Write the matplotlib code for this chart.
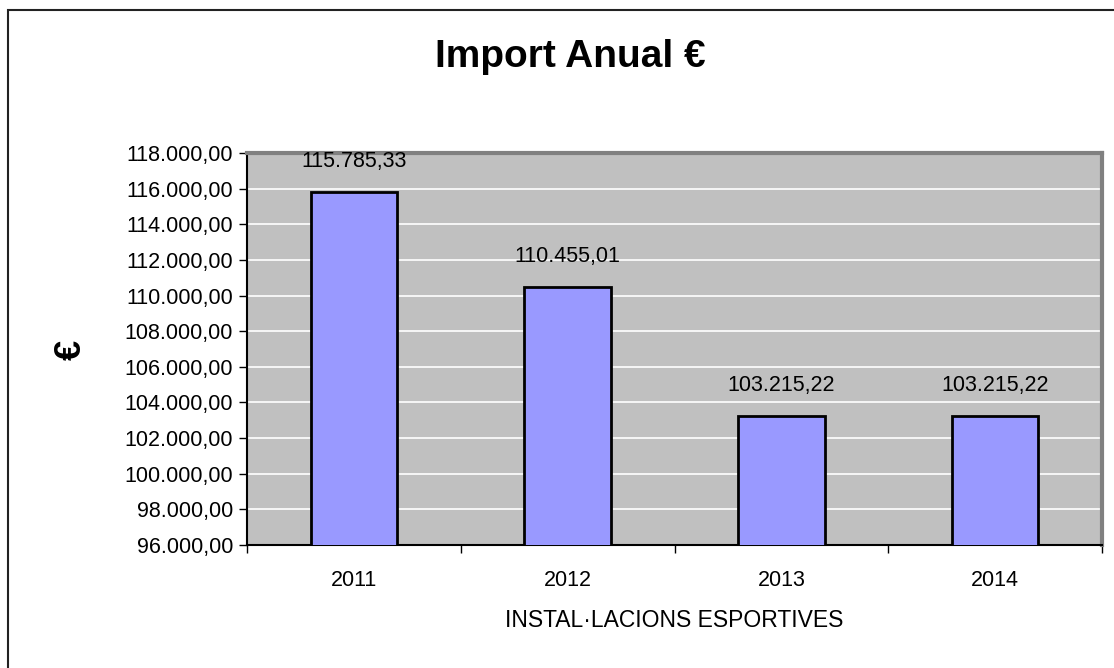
import matplotlib
matplotlib.use("Agg")
import matplotlib.pyplot as plt
from matplotlib.ticker import FuncFormatter, MultipleLocator, FixedLocator
from matplotlib.patches import Rectangle

years = ["2011", "2012", "2013", "2014"]
values = [115785.33, 110455.01, 103215.22, 103215.22]
title = "Import Anual €"
xlabel = "INSTAL·LACIONS ESPORTIVES"
ylabel = "€"

plt.rcParams['font.family'] = ['Liberation Sans', 'DejaVu Sans']

def eur(v, decimals=2):
    s = f"{v:,.{decimals}f}"
    return s.replace(",", "X").replace(".", ",").replace("X", ".")

fig = plt.figure(figsize=(11.14, 6.68), dpi=100)
W, H = 1114, 668
ax = fig.add_axes([247 / W, 1 - 545 / H, (1102 - 247) / W, (545 - 153) / H])

ax.set_facecolor("#C0C0C0")
x = list(range(len(years)))
bars = ax.bar(x, values, width=0.405, color="#9999FF", edgecolor="black",
              linewidth=2, zorder=3)
ax.set_xlim(-0.5, len(years) - 0.5)
ax.set_ylim(96000, 118000)
ax.yaxis.set_major_locator(MultipleLocator(2000))
ax.yaxis.set_major_formatter(FuncFormatter(lambda v, p: eur(v)))
ax.grid(axis="y", color="white", linewidth=1.2, zorder=1)
ax.set_axisbelow(True)

ax.set_xticks(x)
ax.set_xticklabels(years, fontsize=15.5)
ax.xaxis.set_minor_locator(FixedLocator([i - 0.5 for i in range(len(years) + 1)]))
ax.tick_params(axis="x", which="major", length=0, pad=18)
ax.tick_params(axis="x", which="minor", length=6, width=1, color="black")
ax.tick_params(axis="y", length=6, width=1, labelsize=15.5, pad=4)

for sp in ["top", "right"]:
    ax.spines[sp].set_color("#808080")
    ax.spines[sp].set_linewidth(3)
for sp in ["left", "bottom"]:
    ax.spines[sp].set_color("black")
    ax.spines[sp].set_linewidth(1.5)

for xi, v in zip(x, values):
    ax.annotate(eur(v), (xi, v), xytext=(0, 15), textcoords="offset points",
                ha="center", va="bottom", fontsize=15.5)

ax.set_xlabel(xlabel, fontsize=16.5, labelpad=13)
fig.text(71 / W, 1 - 350 / H, ylabel, rotation=90, fontsize=26,
         fontweight="bold", ha="center", va="center")
fig.text(570 / W, 1 - 57 / H, title, fontsize=28, fontweight="bold",
         ha="center", va="center")

fig.add_artist(Rectangle((8 / W, -0.1), 1.2, 1 - 10 / H + 0.1,
                         transform=fig.transFigure, fill=False,
                         edgecolor="#222222", linewidth=1.5))

fig.savefig("out.png", dpi=100)
